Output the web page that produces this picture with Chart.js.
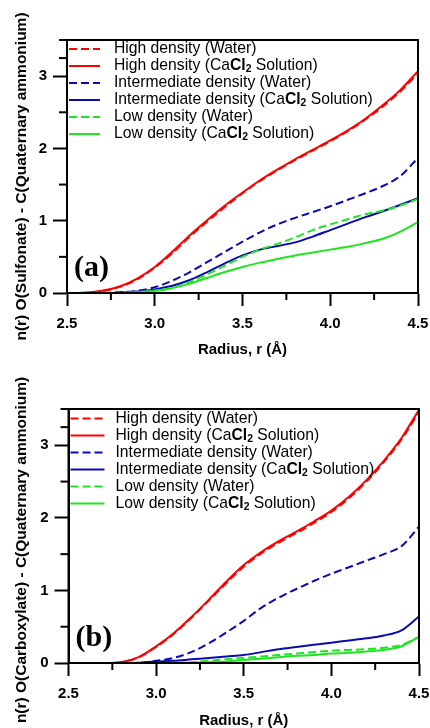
<!DOCTYPE html>
<html>
<head>
<meta charset="utf-8">
<script src="https://cdn.jsdelivr.net/npm/chart.js@4/dist/chart.umd.min.js"></script>
<style>
  html, body { margin: 0; padding: 0; background: #fff; }
  .panel { width: 430px; height: 364px; position: relative; }
  canvas { display: block; }
</style>
</head>
<body>
<div class="panel"><canvas id="chartA" width="430" height="364"></canvas></div>
<div class="panel"><canvas id="chartB" width="430" height="364"></canvas></div>
<script>
// ---------- data ----------
const radius = [2.5, 2.6, 2.7, 2.8, 2.9, 3.0, 3.1, 3.2, 3.3, 3.4, 3.5, 3.6, 3.7, 3.8, 3.9, 4.0, 4.1, 4.2, 4.3, 4.4, 4.5];

const legendLabels = [
  'High density (Water)',
  'High density (CaCl2 Solution)',
  'Intermediate density (Water)',
  'Intermediate density (CaCl2 Solution)',
  'Low density (Water)',
  'Low density (CaCl2 Solution)'
];

// Panel (a): O(Sulfonate) - C(Quaternary ammonium)
const aHighWater  = [0, 0.004, 0.025, 0.085, 0.19, 0.35, 0.55, 0.78, 0.99, 1.19, 1.38, 1.55, 1.70, 1.84, 1.97, 2.10, 2.24, 2.40, 2.58, 2.79, 3.04];
const aHighCaCl2  = [0, 0.005, 0.03, 0.09, 0.20, 0.36, 0.57, 0.80, 1.01, 1.21, 1.39, 1.56, 1.71, 1.85, 1.98, 2.11, 2.25, 2.41, 2.60, 2.81, 3.07];
const aInterWater = [0, 0, 0, 0.01, 0.03, 0.08, 0.17, 0.29, 0.43, 0.57, 0.71, 0.84, 0.95, 1.04, 1.12, 1.20, 1.29, 1.38, 1.48, 1.62, 1.87];
const aInterCaCl2 = [0, 0, 0, 0.005, 0.02, 0.05, 0.10, 0.18, 0.29, 0.41, 0.52, 0.60, 0.65, 0.70, 0.78, 0.87, 0.96, 1.05, 1.13, 1.22, 1.31];
const aLowWater   = [0, 0, 0, 0, 0.01, 0.03, 0.07, 0.15, 0.26, 0.38, 0.50, 0.60, 0.68, 0.77, 0.87, 0.95, 1.02, 1.09, 1.14, 1.21, 1.30];
const aLowCaCl2   = [0, 0, 0, 0, 0.01, 0.03, 0.07, 0.13, 0.21, 0.29, 0.36, 0.42, 0.47, 0.52, 0.56, 0.60, 0.64, 0.69, 0.75, 0.85, 0.98];

// Panel (b): O(Carboxylate) - C(Quaternary ammonium)
const bHighWater  = [0, 0, 0, 0.01, 0.08, 0.22, 0.40, 0.62, 0.86, 1.10, 1.33, 1.51, 1.66, 1.79, 1.93, 2.08, 2.27, 2.50, 2.77, 3.08, 3.46];
const bHighCaCl2  = [0, 0, 0, 0.01, 0.08, 0.23, 0.41, 0.63, 0.87, 1.12, 1.35, 1.53, 1.68, 1.81, 1.95, 2.10, 2.29, 2.52, 2.79, 3.10, 3.49];
const bInterWater = [0, 0, 0, 0, 0, 0.03, 0.07, 0.15, 0.27, 0.42, 0.58, 0.76, 0.90, 1.02, 1.13, 1.23, 1.32, 1.41, 1.50, 1.61, 1.88];
const bInterCaCl2 = [0, 0, 0, 0, 0.005, 0.02, 0.03, 0.05, 0.07, 0.09, 0.11, 0.15, 0.19, 0.22, 0.25, 0.28, 0.31, 0.34, 0.38, 0.45, 0.64];
const bLowWater   = [0, 0, 0, 0, 0, 0, 0.003, 0.01, 0.03, 0.05, 0.07, 0.09, 0.11, 0.13, 0.15, 0.17, 0.18, 0.19, 0.21, 0.25, 0.36];
const bLowCaCl2   = [0, 0, 0, 0, 0, 0, 0, 0.005, 0.01, 0.02, 0.04, 0.06, 0.08, 0.10, 0.11, 0.13, 0.14, 0.16, 0.18, 0.23, 0.36];

const xTitle = 'Radius, r (Å)';
const yTitleA = 'n(r) O(Sulfonate) - C(Quaternary ammonium)';
const yTitleB = 'n(r) O(Carboxylate) - C(Quaternary ammonium)';

// ---------- styles ----------
const RED = '#ff0000', BLUE = '#0a0ab4', GREEN = '#1ee61e';
const DASH = [8, 4];
const SANS = "'Liberation Sans', Arial, sans-serif";
const LEGEND_SIZE = 15.7;

function makeDatasets(series) {
  const colors = [RED, RED, BLUE, BLUE, GREEN, GREEN];
  const dashed = [true, false, true, false, true, false];
  const orders = [5, 6, 4, 3, 2, 1];
  return series.map((vals, i) => ({
    label: legendLabels[i],
    data: vals.map((v, k) => ({ x: radius[k], y: v })),
    borderColor: colors[i],
    backgroundColor: colors[i],
    borderDash: dashed[i] ? DASH : [],
    borderWidth: 2,
    pointRadius: 0,
    fill: false,
    cubicInterpolationMode: 'monotone',
    order: orders[i]
  }));
}

function drawRich(ctx, text, x, y, size) {
  // renders "CaCl2" with bold Cl and subscript 2
  const idx = text.indexOf('CaCl2');
  const parts = [];
  if (idx < 0) parts.push({ t: text });
  else {
    parts.push({ t: text.slice(0, idx) + 'Ca' });
    parts.push({ t: 'Cl', b: true });
    parts.push({ t: '2', b: true, sub: true });
    parts.push({ t: text.slice(idx + 5) });
  }
  let cx = x;
  for (const p of parts) {
    const fs = p.sub ? size * 0.66 : size;
    ctx.font = (p.b ? 'bold ' : '') + fs + 'px ' + SANS;
    ctx.fillText(p.t, cx, p.sub ? y + size * 0.22 : y);
    cx += ctx.measureText(p.t).width;
  }
}

function decorPlugin(panelLabel, yTitle, legendOffsets, yTitleShift) {
  return {
    id: 'decor' + panelLabel.replace(/\W/g, ''),
    afterDraw(chart) {
      const { ctx, chartArea: { left, right, top, bottom }, scales: { x, y } } = chart;
      ctx.save();
      ctx.strokeStyle = '#000';
      ctx.lineWidth = 2;
      // minor ticks (midpoints between the library's major ticks)
      const xt = x.ticks.map(t => t.value);
      for (let i = 0; i < xt.length - 1; i++) {
        const px = x.getPixelForValue((xt[i] + xt[i + 1]) / 2);
        ctx.beginPath(); ctx.moveTo(px, bottom); ctx.lineTo(px, bottom + 7); ctx.stroke();
      }
      const yt = y.ticks.map(t => t.value);
      for (let i = 0; i < yt.length - 1; i++) {
        const py = y.getPixelForValue((yt[i] + yt[i + 1]) / 2);
        ctx.beginPath(); ctx.moveTo(left, py); ctx.lineTo(left - 8, py); ctx.stroke();
      }
      ctx.beginPath(); ctx.moveTo(left, top); ctx.lineTo(left - 8, top); ctx.stroke();
      // frame
      ctx.strokeRect(left, top, right - left, bottom - top);

      // y-axis title (rotated, slightly below the plot centre as in the reference)
      ctx.save();
      ctx.fillStyle = '#000';
      ctx.font = 'bold 15.5px ' + SANS;
      ctx.textAlign = 'center';
      ctx.textBaseline = 'middle';
      ctx.translate(22, (top + bottom) / 2 + yTitleShift);
      ctx.rotate(-Math.PI / 2);
      ctx.fillText(yTitle, 0, 0);
      ctx.restore();

      // legend
      ctx.fillStyle = '#000';
      ctx.textBaseline = 'middle';
      ctx.textAlign = 'left';
      chart.data.datasets.forEach((ds, i) => {
        const ly = top + legendOffsets.y0 + i * legendOffsets.dy;
        ctx.save();
        ctx.strokeStyle = ds.borderColor;
        ctx.lineWidth = 2;
        ctx.setLineDash(ds.borderDash);
        ctx.beginPath();
        ctx.moveTo(left + legendOffsets.lx0, ly);
        ctx.lineTo(left + legendOffsets.lx1, ly);
        ctx.stroke();
        ctx.restore();
        drawRich(ctx, ds.label, left + legendOffsets.tx, ly, LEGEND_SIZE);
      });

      // panel label
      ctx.font = "bold 30px 'Liberation Serif', 'Times New Roman', serif";
      ctx.textBaseline = 'alphabetic';
      ctx.fillText(panelLabel, left + 7, bottom - 17);
      ctx.restore();
    }
  };
}

function makeChart(id, series, yTitle, panelLabel, pad, legendOffsets) {
  return new Chart(document.getElementById(id), {
    type: 'line',
    data: { datasets: makeDatasets(series) },
    options: {
      responsive: false,
      animation: false,
      events: [],
      layout: { padding: { left: 0, right: pad.right, top: pad.top, bottom: 0 } },
      plugins: { legend: { display: false }, tooltip: { enabled: false } },
      scales: {
        x: {
          type: 'linear',
          min: 2.5, max: 4.5,
          afterFit: s => { s.height = pad.xh; s.paddingLeft = 0; s.paddingRight = 0; },
          ticks: {
            stepSize: 0.5,
            padding: 9,
            color: '#000',
            font: { family: SANS, size: 15, weight: 'bold' },
            callback: v => Number(v).toFixed(1)
          },
          grid: { drawOnChartArea: false, color: '#000', tickColor: '#000', tickLength: 13, tickWidth: 2 },
          border: { display: true, color: '#000', width: 2 },
          title: {
            display: true, text: xTitle, color: '#000',
            font: { family: SANS, size: 15, weight: 'bold', lineHeight: 1 },
            padding: { top: 0, bottom: pad.xtb }
          }
        },
        y: {
          type: 'linear',
          min: 0, max: 3.5,
          afterFit: s => { s.width = pad.yw; },
          ticks: {
            stepSize: 1,
            padding: 6,
            color: '#000',
            font: { family: SANS, size: 15, weight: 'bold' },
            callback: v => (Number.isInteger(v) ? String(v) : '')
          },
          grid: {
            drawOnChartArea: false,
            tickLength: 14, tickWidth: 2,
            tickColor: c => (c.tick && Number.isInteger(c.tick.value) ? '#000' : 'rgba(0,0,0,0)'),
            color: '#000'
          },
          border: { display: true, color: '#000', width: 2 },
          title: { display: false, text: yTitle }
        }
      }
    },
    plugins: [decorPlugin(panelLabel, yTitle, legendOffsets, pad.yts)]
  });
}

makeChart('chartA', [aHighWater, aHighCaCl2, aInterWater, aInterCaCl2, aLowWater, aLowCaCl2],
  yTitleA, '(a)', { right: 12, top: 40, xh: 71, yw: 67, xtb: 7, yts: 10 },
  { y0: 9, dy: 17, lx0: 2, lx1: 33, tx: 47 });

makeChart('chartB', [bHighWater, bHighCaCl2, bInterWater, bInterCaCl2, bLowWater, bLowCaCl2],
  yTitleB, '(b)', { right: 11, top: 45, xh: 65, yw: 68.5, xtb: 0, yts: 14 },
  { y0: 9.5, dy: 17, lx0: 2, lx1: 36, tx: 47 });
</script>
</body>
</html>
